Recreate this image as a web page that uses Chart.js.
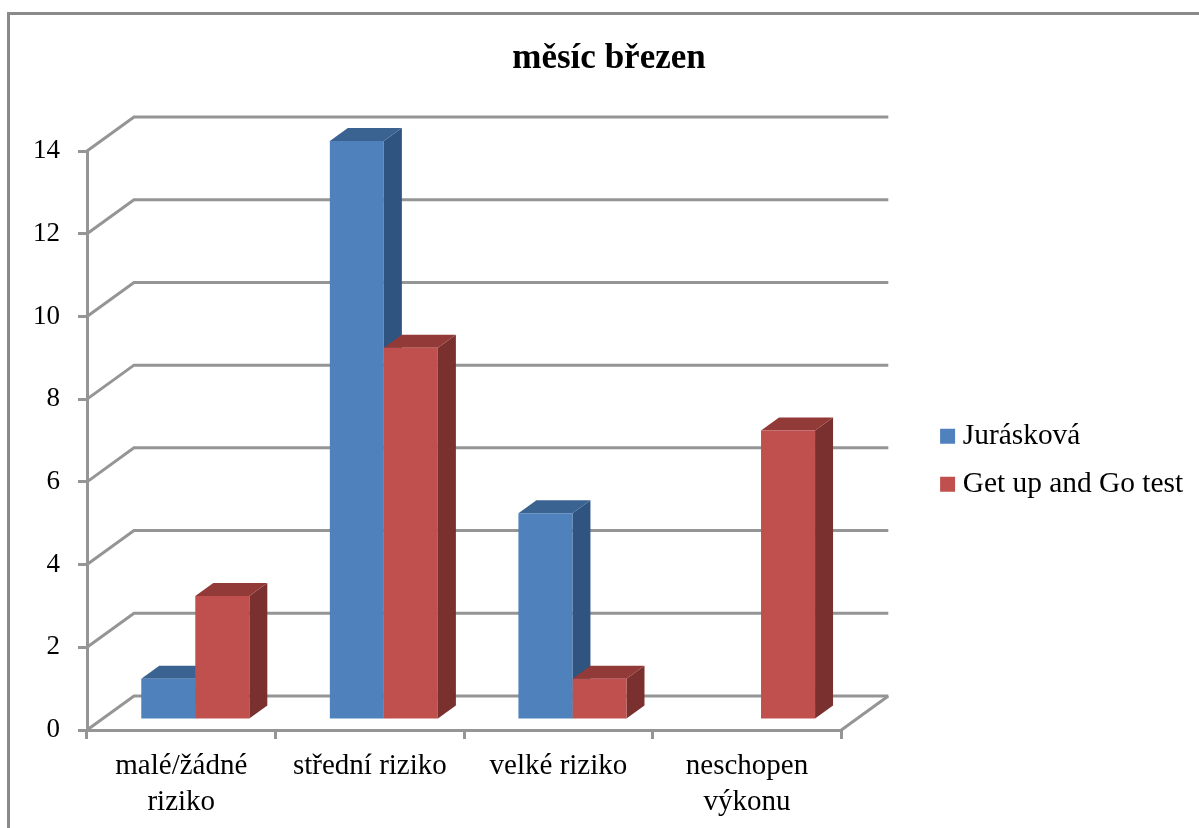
<!DOCTYPE html>
<html lang="cs">
<head>
  <meta charset="UTF-8">
  <title>měsíc březen</title>
  <script src="https://cdn.jsdelivr.net/npm/chart.js"></script>
  <style>
    body { margin: 0; background: #ffffff; }
    canvas { display: block; }
  </style>
</head>
<body>
  <canvas id="rizikoChart" width="1199" height="828"></canvas>

  <script>
    const categories = [['malé/žádné', 'riziko'], 'střední riziko', 'velké riziko', ['neschopen', 'výkonu']];
    const juraskova = [1, 14, 5, 0];
    const getUpAndGo = [3, 9, 1, 7];
    const yTicks = [0, 2, 4, 6, 8, 10, 12, 14];

    const GRID = '#959595';
    const FONT = 'Liberation Serif';
    // perspective of the box and how far the bars sit inside it
    const WALL = { dx: 47, dy: -34 };
    const BAR_SHIFT = { dx: 14, dy: -10 };
    const BAR_DEPTH = { dx: 18, dy: -13 };
    const SHADES = [
      { top: '#3b6391', side: '#2f5480' },
      { top: '#923a38', side: '#7a302e' }
    ];

    function line(ctx, points) {
      ctx.beginPath();
      points.forEach((p, i) => i ? ctx.lineTo(p[0], p[1]) : ctx.moveTo(p[0], p[1]));
      ctx.stroke();
    }

    function face(ctx, color, points) {
      ctx.fillStyle = color;
      ctx.beginPath();
      points.forEach((p, i) => i ? ctx.lineTo(p[0], p[1]) : ctx.moveTo(p[0], p[1]));
      ctx.closePath();
      ctx.fill();
    }

    const box3d = {
      id: 'box3d',
      afterLayout(chart) {
        // legend sits clear of the back wall, title is centred on the plot box
        const legend = chart.legend;
        legend.left = 928.5;
        legend.right = 1199;
        legend.top = 403;
        legend.bottom = 560;
        chart.titleBlock.left = 0;
        chart.titleBlock.right = 1218;
      },
      beforeDraw(chart) {
        // outer frame, only top and left edges are on the page
        const ctx = chart.ctx;
        ctx.save();
        ctx.strokeStyle = '#8a8a8a';
        ctx.lineWidth = 3;
        line(ctx, [[8.5, 828], [8.5, 13.5], [1199, 13.5]]);
        ctx.restore();
      },
      beforeDatasetsDraw(chart) {
        const ctx = chart.ctx;
        const { left, right } = chart.chartArea;
        const y = chart.scales.y;

        // wall grid: a slanted piece on the side wall, then along the back wall
        ctx.save();
        ctx.strokeStyle = GRID;
        ctx.lineWidth = 3;
        yTicks.forEach(t => {
          const py = y.getPixelForValue(t);
          line(ctx, [[left, py], [left + WALL.dx, py + WALL.dy], [right + WALL.dx, py + WALL.dy]]);
        });
        const floor = y.getPixelForValue(0);
        line(ctx, [[right, floor], [right + WALL.dx, floor + WALL.dy]]);
        ctx.restore();

        // side and top faces, first series first so the second covers it
        ctx.save();
        ctx.translate(BAR_SHIFT.dx, BAR_SHIFT.dy);
        chart.data.datasets.forEach((ds, d) => {
          chart.getDatasetMeta(d).data.forEach((bar, i) => {
            if (!ds.data[i]) return;
            const half = bar.width / 2;
            const l = bar.x - half, r = bar.x + half;
            const { dx, dy } = BAR_DEPTH;
            face(ctx, SHADES[d].side, [[r, bar.y], [r + dx, bar.y + dy], [r + dx, bar.base + dy], [r, bar.base]]);
            face(ctx, SHADES[d].top, [[l, bar.y], [l + dx, bar.y + dy], [r + dx, bar.y + dy], [r, bar.y]]);
          });
        });
        ctx.restore();

        // front faces drawn by the library, shifted the same way
        ctx.save();
        ctx.translate(BAR_SHIFT.dx, BAR_SHIFT.dy);
      },
      afterDatasetsDraw(chart) {
        chart.ctx.restore();
      }
    };

    new Chart(document.getElementById('rizikoChart'), {
      type: 'bar',
      plugins: [box3d],
      data: {
        labels: categories,
        datasets: [
          { label: 'Jurásková', data: juraskova, backgroundColor: '#4f81bd' },
          { label: 'Get up and Go test', data: getUpAndGo, backgroundColor: '#c0504d' }
        ]
      },
      options: {
        responsive: false,
        animation: false,
        events: [],
        layout: { padding: { right: 93 } },
        categoryPercentage: 0.573,
        barPercentage: 1,
        plugins: {
          title: {
            display: true,
            text: 'měsíc březen',
            color: '#000000',
            font: { family: FONT, size: 35, weight: 'bold' },
            padding: { top: 38, bottom: 71 }
          },
          legend: {
            position: 'right',
            align: 'start',
            labels: {
              color: '#000000',
              font: { family: FONT, size: 29.4 },
              // 1px box with a thick outline keeps the swatch close to its text
              boxWidth: 1,
              boxHeight: 1,
              padding: 18.6,
              generateLabels(chart) {
                return Chart.defaults.plugins.legend.labels.generateLabels(chart).map(item => {
                  item.strokeStyle = item.fillStyle;
                  item.lineWidth = 14;
                  return item;
                });
              }
            }
          },
          tooltip: { enabled: false }
        },
        scales: {
          x: {
            afterFit(scale) { scale.height = 98; },
            grid: {
              drawOnChartArea: false,
              color: GRID,
              lineWidth: 3,
              tickLength: 9
            },
            border: { color: GRID, width: 3 },
            ticks: {
              color: '#000000',
              font: { family: FONT, size: 29, lineHeight: 1.25 },
              padding: 9,
              maxRotation: 0
            }
          },
          y: {
            min: 0,
            max: 14,
            afterFit(scale) { scale.width = 87; },
            grid: {
              drawOnChartArea: false,
              color: GRID,
              lineWidth: 3,
              tickLength: 9
            },
            border: { color: GRID, width: 3 },
            ticks: {
              color: '#000000',
              font: { family: FONT, size: 27 },
              padding: 18,
              stepSize: 2
            }
          }
        }
      }
    });
  </script>
</body>
</html>
